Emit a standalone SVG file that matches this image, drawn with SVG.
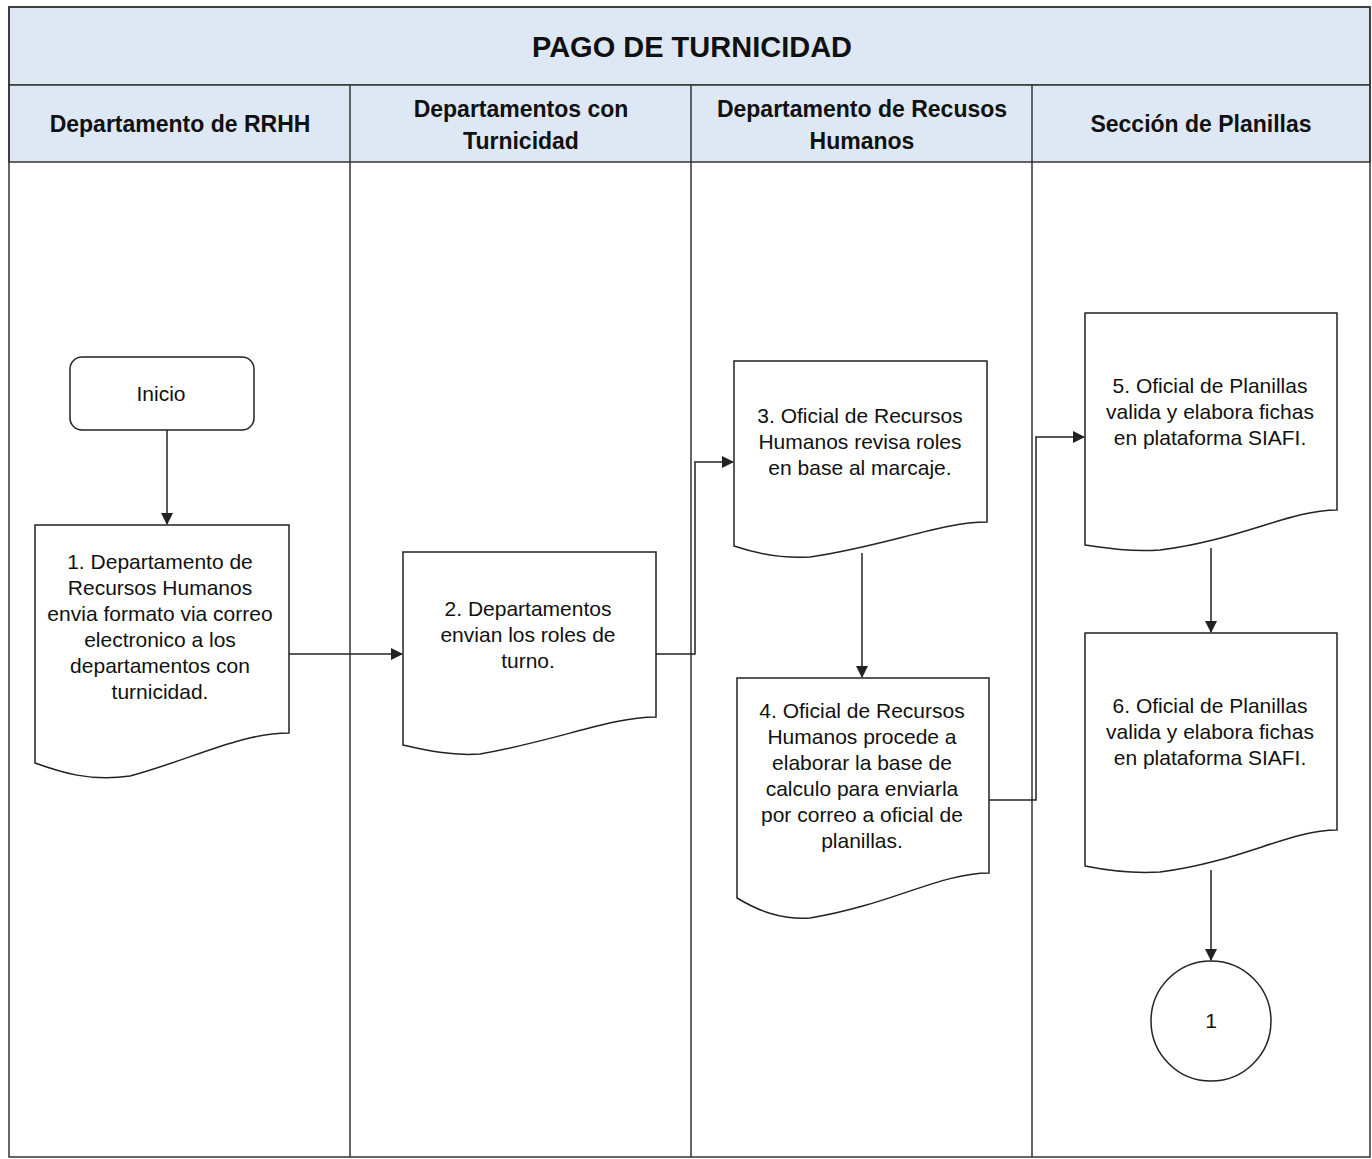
<svg xmlns="http://www.w3.org/2000/svg" width="1372" height="1159" viewBox="0 0 1372 1159">
<style>
.hdr{fill:#dde8f4;stroke:#333;stroke-width:1.5}
.lane{fill:none;stroke:#333;stroke-width:1.5}
.t{font-family:"Liberation Sans",Arial,sans-serif;font-weight:bold;fill:#111;text-anchor:middle}
.n{font-family:"Liberation Sans",Arial,sans-serif;font-size:21px;fill:#111;text-anchor:middle}
.shape{fill:#fff;stroke:#222;stroke-width:1.5}
.c{fill:none;stroke:#222;stroke-width:1.5;marker-end:url(#ah)}
</style>
<defs>
<marker id="ah" markerWidth="12" markerHeight="12" refX="11" refY="6" orient="auto" markerUnits="userSpaceOnUse">
<path d="M0,0 L12,6 L0,12 Z" fill="#222"/>
</marker>
</defs>
<rect width="1372" height="1159" fill="#fff"/>
<g id="frame">
<rect class="hdr" x="9" y="7" width="1361" height="78"/>
<rect class="hdr" x="9" y="85" width="1361" height="77"/>
<rect class="lane" x="9" y="7" width="1361" height="1150"/>
<line class="lane" x1="350" y1="85" x2="350" y2="1157"/>
<line class="lane" x1="691" y1="85" x2="691" y2="1157"/>
<line class="lane" x1="1032" y1="85" x2="1032" y2="1157"/>
<text class="t" x="692" y="57" font-size="29">PAGO DE TURNICIDAD</text>
<text class="t" x="180" y="132" font-size="23">Departamento de RRHH</text>
<text class="t" x="521" y="117" font-size="23">Departamentos con</text>
<text class="t" x="521" y="149" font-size="23">Turnicidad</text>
<text class="t" x="862" y="117" font-size="23">Departamento de Recusos</text>
<text class="t" x="862" y="149" font-size="23">Humanos</text>
<text class="t" x="1201" y="132" font-size="23">Sección de Planillas</text>
</g>
<g id="connectors">
<path class="c" d="M167,430 L167,524"/>
<path class="c" d="M289,654 L402,654"/>
<path class="c" d="M656,654 L695,654 L695,462 L733,462"/>
<path class="c" d="M862,553 L862,677"/>
<path class="c" d="M989,800 L1036,800 L1036,437 L1084,437"/>
<path class="c" d="M1211,548 L1211,632"/>
<path class="c" d="M1211,870 L1211,960"/>
</g>
<g id="inicio">
<rect class="shape" x="70" y="357" width="184" height="73" rx="12"/>
<text class="n" x="161" y="401">Inicio</text>
</g>
<g id="n1">
<path class="shape" d="M35,525 L289,525 L289,733 C240,733 190,760 130,776 C90,782 60,772 35,763 Z"/>
<text class="n" x="160" y="569">1. Departamento de</text>
<text class="n" x="160" y="595">Recursos Humanos</text>
<text class="n" x="160" y="621">envia formato via correo</text>
<text class="n" x="160" y="647">electronico a los</text>
<text class="n" x="160" y="673">departamentos con</text>
<text class="n" x="160" y="699">turnicidad.</text>
</g>
<g id="n2">
<path class="shape" d="M403,552 L656,552 L656,717 C610,717 560,740 480,754 C450,756 425,750 403,745 Z"/>
<text class="n" x="528" y="616">2. Departamentos</text>
<text class="n" x="528" y="642">envian los roles de</text>
<text class="n" x="528" y="668">turno.</text>
</g>
<g id="n3">
<path class="shape" d="M734,361 L987,361 L987,522 C940,522 890,545 810,557 C780,559 755,553 734,546 Z"/>
<text class="n" x="860" y="423">3. Oficial de Recursos</text>
<text class="n" x="860" y="449">Humanos revisa roles</text>
<text class="n" x="860" y="475">en base al marcaje.</text>
</g>
<g id="n4">
<path class="shape" d="M737,678 L989,678 L989,873 C940,873 890,905 810,918 C780,920 757,910 737,898 Z"/>
<text class="n" x="862" y="718">4. Oficial de Recursos</text>
<text class="n" x="862" y="744">Humanos procede a</text>
<text class="n" x="862" y="770">elaborar la base de</text>
<text class="n" x="862" y="796">calculo para enviarla</text>
<text class="n" x="862" y="822">por correo a oficial de</text>
<text class="n" x="862" y="848">planillas.</text>
</g>
<g id="n5">
<path class="shape" d="M1085,313 L1337,313 L1337,510 C1290,510 1240,540 1160,550 C1130,552 1105,548 1085,545 Z"/>
<text class="n" x="1210" y="393">5. Oficial de Planillas</text>
<text class="n" x="1210" y="419">valida y elabora fichas</text>
<text class="n" x="1210" y="445">en plataforma SIAFI.</text>
</g>
<g id="n6">
<path class="shape" d="M1085,633 L1337,633 L1337,830 C1290,830 1240,862 1160,872 C1130,874 1105,870 1085,866 Z"/>
<text class="n" x="1210" y="713">6. Oficial de Planillas</text>
<text class="n" x="1210" y="739">valida y elabora fichas</text>
<text class="n" x="1210" y="765">en plataforma SIAFI.</text>
</g>
<g id="conn1">
<circle class="shape" cx="1211" cy="1021" r="60"/>
<text class="n" x="1211" y="1028">1</text>
</g>
</svg>
